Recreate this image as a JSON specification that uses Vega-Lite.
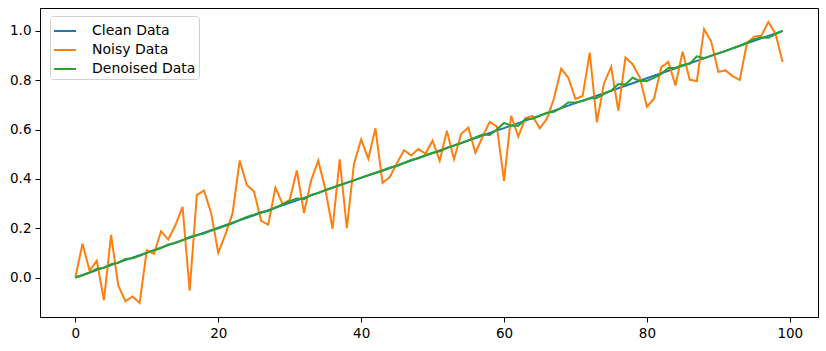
{
  "$schema": "https://vega.github.io/schema/vega-lite/v6.json",
  "width": 778,
  "height": 309,
  "autosize": {"type": "none"},
  "padding": {"left": 40, "top": 8, "right": 8, "bottom": 34},
  "background": "white",
  "config": {
    "font": "DejaVu Sans",
    "view": {"stroke": "black", "strokeWidth": 1},
    "axis": {"grid": false, "domainColor": "black", "tickColor": "black", "labelColor": "black", "labelFont": "DejaVu Sans", "labelFontSize": 13.5, "tickSize": 5, "labelPadding": 4, "title": null}
  },
  "data": {"values": [
    {"x":0,"clean":0,"noisy":0,"denoised":0},
    {"x":1,"clean":0.0101,"noisy":0.137,"denoised":0.009},
    {"x":2,"clean":0.0202,"noisy":0.028,"denoised":0.02},
    {"x":3,"clean":0.0303,"noisy":0.068,"denoised":0.036},
    {"x":4,"clean":0.0404,"noisy":-0.092,"denoised":0.04},
    {"x":5,"clean":0.0505,"noisy":0.173,"denoised":0.054},
    {"x":6,"clean":0.0606,"noisy":-0.032,"denoised":0.06},
    {"x":7,"clean":0.0707,"noisy":-0.096,"denoised":0.075},
    {"x":8,"clean":0.0808,"noisy":-0.077,"denoised":0.078},
    {"x":9,"clean":0.0909,"noisy":-0.103,"denoised":0.088},
    {"x":10,"clean":0.101,"noisy":0.111,"denoised":0.1},
    {"x":11,"clean":0.1111,"noisy":0.096,"denoised":0.11},
    {"x":12,"clean":0.1212,"noisy":0.188,"denoised":0.12},
    {"x":13,"clean":0.1313,"noisy":0.154,"denoised":0.134},
    {"x":14,"clean":0.1414,"noisy":0.212,"denoised":0.14},
    {"x":15,"clean":0.1515,"noisy":0.287,"denoised":0.152},
    {"x":16,"clean":0.1616,"noisy":-0.053,"denoised":0.165},
    {"x":17,"clean":0.1717,"noisy":0.334,"denoised":0.172},
    {"x":18,"clean":0.1818,"noisy":0.353,"denoised":0.178},
    {"x":19,"clean":0.1919,"noisy":0.262,"denoised":0.19},
    {"x":20,"clean":0.202,"noisy":0.1,"denoised":0.2},
    {"x":21,"clean":0.2121,"noisy":0.175,"denoised":0.21},
    {"x":22,"clean":0.2222,"noisy":0.26,"denoised":0.22},
    {"x":23,"clean":0.2323,"noisy":0.475,"denoised":0.234},
    {"x":24,"clean":0.2424,"noisy":0.375,"denoised":0.246},
    {"x":25,"clean":0.2525,"noisy":0.349,"denoised":0.255},
    {"x":26,"clean":0.2626,"noisy":0.23,"denoised":0.265},
    {"x":27,"clean":0.2727,"noisy":0.214,"denoised":0.27},
    {"x":28,"clean":0.2828,"noisy":0.365,"denoised":0.284},
    {"x":29,"clean":0.2929,"noisy":0.299,"denoised":0.297},
    {"x":30,"clean":0.303,"noisy":0.315,"denoised":0.31},
    {"x":31,"clean":0.3131,"noisy":0.434,"denoised":0.32},
    {"x":32,"clean":0.3232,"noisy":0.262,"denoised":0.318},
    {"x":33,"clean":0.3333,"noisy":0.394,"denoised":0.335},
    {"x":34,"clean":0.3434,"noisy":0.474,"denoised":0.343},
    {"x":35,"clean":0.3535,"noisy":0.357,"denoised":0.355},
    {"x":36,"clean":0.3636,"noisy":0.198,"denoised":0.365},
    {"x":37,"clean":0.3737,"noisy":0.479,"denoised":0.375},
    {"x":38,"clean":0.3838,"noisy":0.2,"denoised":0.385},
    {"x":39,"clean":0.3939,"noisy":0.461,"denoised":0.394},
    {"x":40,"clean":0.404,"noisy":0.56,"denoised":0.405},
    {"x":41,"clean":0.4141,"noisy":0.482,"denoised":0.415},
    {"x":42,"clean":0.4242,"noisy":0.605,"denoised":0.425},
    {"x":43,"clean":0.4343,"noisy":0.384,"denoised":0.433},
    {"x":44,"clean":0.4444,"noisy":0.407,"denoised":0.445},
    {"x":45,"clean":0.4545,"noisy":0.463,"denoised":0.452},
    {"x":46,"clean":0.4646,"noisy":0.516,"denoised":0.465},
    {"x":47,"clean":0.4747,"noisy":0.495,"denoised":0.477},
    {"x":48,"clean":0.4848,"noisy":0.521,"denoised":0.484},
    {"x":49,"clean":0.4949,"noisy":0.503,"denoised":0.496},
    {"x":50,"clean":0.5051,"noisy":0.555,"denoised":0.505},
    {"x":51,"clean":0.5152,"noisy":0.474,"denoised":0.512},
    {"x":52,"clean":0.5253,"noisy":0.595,"denoised":0.526},
    {"x":53,"clean":0.5354,"noisy":0.48,"denoised":0.535},
    {"x":54,"clean":0.5455,"noisy":0.582,"denoised":0.545},
    {"x":55,"clean":0.5556,"noisy":0.608,"denoised":0.556},
    {"x":56,"clean":0.5657,"noisy":0.506,"denoised":0.568},
    {"x":57,"clean":0.5758,"noisy":0.571,"denoised":0.58},
    {"x":58,"clean":0.5859,"noisy":0.631,"denoised":0.578},
    {"x":59,"clean":0.596,"noisy":0.612,"denoised":0.6},
    {"x":60,"clean":0.6061,"noisy":0.392,"denoised":0.627},
    {"x":61,"clean":0.6162,"noisy":0.656,"denoised":0.616},
    {"x":62,"clean":0.6263,"noisy":0.572,"denoised":0.616},
    {"x":63,"clean":0.6364,"noisy":0.647,"denoised":0.642},
    {"x":64,"clean":0.6465,"noisy":0.655,"denoised":0.644},
    {"x":65,"clean":0.6566,"noisy":0.605,"denoised":0.656},
    {"x":66,"clean":0.6667,"noisy":0.644,"denoised":0.668},
    {"x":67,"clean":0.6768,"noisy":0.727,"denoised":0.672},
    {"x":68,"clean":0.6869,"noisy":0.847,"denoised":0.688},
    {"x":69,"clean":0.697,"noisy":0.81,"denoised":0.71},
    {"x":70,"clean":0.7071,"noisy":0.724,"denoised":0.71},
    {"x":71,"clean":0.7172,"noisy":0.736,"denoised":0.716},
    {"x":72,"clean":0.7273,"noisy":0.912,"denoised":0.726},
    {"x":73,"clean":0.7374,"noisy":0.629,"denoised":0.728},
    {"x":74,"clean":0.7475,"noisy":0.788,"denoised":0.745},
    {"x":75,"clean":0.7576,"noisy":0.854,"denoised":0.758},
    {"x":76,"clean":0.7677,"noisy":0.677,"denoised":0.785},
    {"x":77,"clean":0.7778,"noisy":0.892,"denoised":0.783},
    {"x":78,"clean":0.7879,"noisy":0.865,"denoised":0.81},
    {"x":79,"clean":0.798,"noisy":0.812,"denoised":0.797},
    {"x":80,"clean":0.8081,"noisy":0.693,"denoised":0.797},
    {"x":81,"clean":0.8182,"noisy":0.725,"denoised":0.81},
    {"x":82,"clean":0.8283,"noisy":0.852,"denoised":0.826},
    {"x":83,"clean":0.8384,"noisy":0.874,"denoised":0.85},
    {"x":84,"clean":0.8485,"noisy":0.779,"denoised":0.85},
    {"x":85,"clean":0.8586,"noisy":0.916,"denoised":0.862},
    {"x":86,"clean":0.8687,"noisy":0.802,"denoised":0.867},
    {"x":87,"clean":0.8788,"noisy":0.797,"denoised":0.897},
    {"x":88,"clean":0.8889,"noisy":1.008,"denoised":0.889},
    {"x":89,"clean":0.899,"noisy":0.957,"denoised":0.9},
    {"x":90,"clean":0.9091,"noisy":0.834,"denoised":0.91},
    {"x":91,"clean":0.9192,"noisy":0.84,"denoised":0.918},
    {"x":92,"clean":0.9293,"noisy":0.817,"denoised":0.93},
    {"x":93,"clean":0.9394,"noisy":0.801,"denoised":0.94},
    {"x":94,"clean":0.9495,"noisy":0.95,"denoised":0.952},
    {"x":95,"clean":0.9596,"noisy":0.977,"denoised":0.966},
    {"x":96,"clean":0.9697,"noisy":0.98,"denoised":0.973},
    {"x":97,"clean":0.9798,"noisy":1.036,"denoised":0.972},
    {"x":98,"clean":0.9899,"noisy":0.989,"denoised":0.987},
    {"x":99,"clean":1,"noisy":0.874,"denoised":1}
  ]},
  "encoding": {
    "x": {"field": "x", "type": "quantitative", "scale": {"domain": [-4.95, 103.95], "nice": false, "zero": false}, "axis": {"values": [0, 20, 40, 60, 80, 100], "format": "d"}}
  },
  "layer": [
    {
      "mark": {"type": "line", "strokeWidth": 2},
      "encoding": {
        "y": {"field": "clean", "type": "quantitative", "scale": {"domain": [-0.16, 1.093], "nice": false, "zero": false}, "axis": {"values": [0, 0.2, 0.4, 0.6, 0.8, 1.0], "format": ".1f"}},
        "color": {"datum": "Clean Data", "type": "nominal", "scale": {"domain": ["Clean Data", "Noisy Data", "Denoised Data"], "range": ["#1f77b4", "#ff7f0e", "#2ca02c"]},
          "legend": {"title": null, "orient": "none", "legendX": 10, "legendY": 8, "symbolType": "stroke", "symbolSize": 484, "symbolStrokeWidth": 2, "labelFontSize": 14, "labelFont": "DejaVu Sans", "labelColor": "black", "fillColor": "white", "strokeColor": "#d0d0d0", "cornerRadius": 3, "padding": 3, "rowPadding": 0, "labelOffset": 15}}
      }
    },
    {
      "mark": {"type": "line", "strokeWidth": 2},
      "encoding": {
        "y": {"field": "noisy", "type": "quantitative"},
        "color": {"datum": "Noisy Data", "type": "nominal"}
      }
    },
    {
      "mark": {"type": "line", "strokeWidth": 2},
      "encoding": {
        "y": {"field": "denoised", "type": "quantitative"},
        "color": {"datum": "Denoised Data", "type": "nominal"}
      }
    }
  ]
}
